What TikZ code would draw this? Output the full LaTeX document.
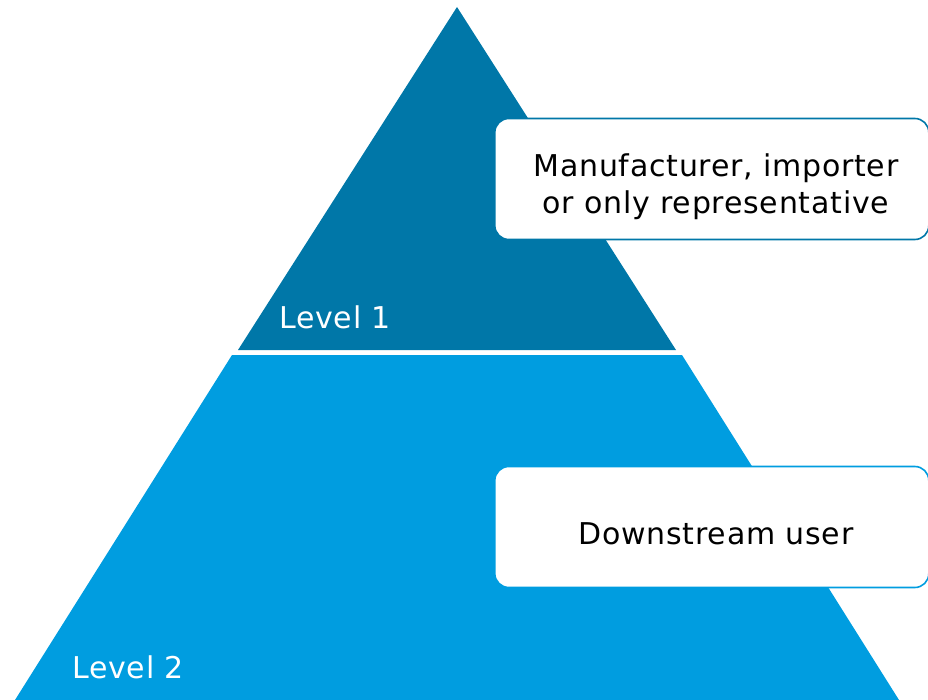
\documentclass[tikz,border=0pt]{standalone}
\usepackage{fontspec}
\setmainfont[LetterSpace=2.5]{DejaVu Sans}
\usetikzlibrary{positioning}

\definecolor{darkblue}{HTML}{0077A8}
\definecolor{lightblue}{HTML}{009DE0}

\tikzset{
  levelbox/.style={draw,fill=white,line width=1.6pt,rounded corners=14pt,
    minimum width=434pt,minimum height=121pt,anchor=west},
  boxtext/.style={text=black,anchor=base,align=center,inner sep=0pt,
    font=\fontsize{30}{37.5}\selectfont},
  leveltext/.style={text=white,anchor=base west,inner sep=0pt,
    font=\fontsize{30}{36}\selectfont}
}

\begin{document}
\begin{tikzpicture}[x=1pt,y=-1pt]
\useasboundingbox (0,0) rectangle (928,700);
\clip (0,0) rectangle (928,700);
% pyramid
\fill[darkblue] (457,7) -- (676,350) -- (238,350) -- cycle;
\fill[lightblue] (232,355) -- (682,355) -- (899,700) -- (15,700) -- cycle;
% labels
\node[leveltext] (lvlone) at (279,328) {Level 1};
\node[leveltext] (lvltwo) at (72,678) {Level 2};
% boxes
\node[levelbox,draw=darkblue] (maker) at (494,179) {};
\node[boxtext] (makertext) at (716,214) {Manufacturer, importer\\or only representative};
\node[levelbox,draw=lightblue] (user) at (494,527) {};
\node[boxtext] (usertext) at (716,544) {Downstream user};
\end{tikzpicture}
\end{document}
